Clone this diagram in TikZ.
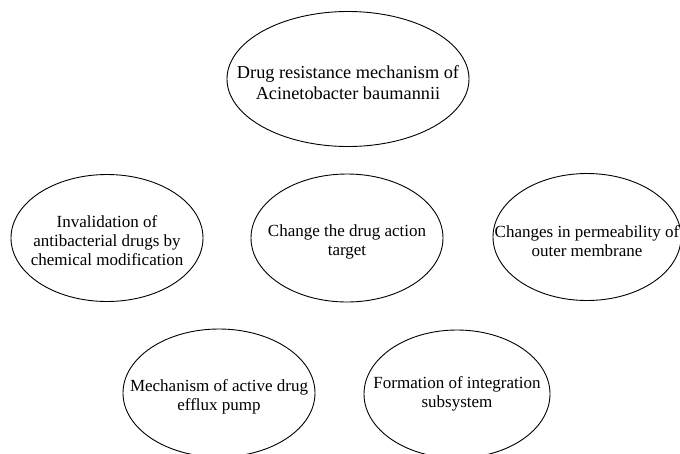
\documentclass[tikz,border=0pt]{standalone}
\usepackage{fontspec}
\setmainfont{Liberation Serif}
\usetikzlibrary{shapes.geometric}
\tikzset{
  oval/.style={draw=black, line width=0.9pt, ellipse, inner sep=0pt},
  txt/.style={align=center, font=\fontsize{17}{19}\selectfont, text=black, inner sep=0pt},
  bigtxt/.style={txt, font=\fontsize{18.3}{21}\selectfont}
}
\begin{document}
\begin{tikzpicture}[x=1pt,y=-1pt]
\useasboundingbox (0,0) rectangle (680,453);
\clip (0,0) rectangle (680,453);
\node[oval, minimum width=242pt, minimum height=135pt] (top) at (348,79) {};
\node[bigtxt] (topt) at ([yshift=-3.5pt]top.center) {Drug resistance mechanism of\\Acinetobacter baumannii};
\node[oval, minimum width=192pt, minimum height=127pt] (left) at (107,238) {};
\node[txt] (leftt) at ([yshift=-2.5pt]left.center) {Invalidation of\\antibacterial drugs by\\chemical modification};
\node[oval, minimum width=192pt, minimum height=128pt] (mid) at (347,238) {};
\node[txt] (midt) at ([yshift=-4pt]mid.center) {Change the drug action\\target};
\node[oval, minimum width=188pt, minimum height=127pt] (right) at (587,237) {};
\node[txt] (rightt) at ([yshift=-4.5pt]right.center) {Changes in permeability of\\outer membrane};
\node[oval, minimum width=192pt, minimum height=128pt] (bl) at (219,393) {};
\node[txt] (blt) at ([yshift=-3.5pt]bl.center) {Mechanism of active drug\\efflux pump};
\node[oval, minimum width=186pt, minimum height=128pt] (br) at (457,394) {};
\node[txt] (brt) at ([yshift=0pt]br.center) {Formation of integration\\subsystem};
\end{tikzpicture}
\end{document}
